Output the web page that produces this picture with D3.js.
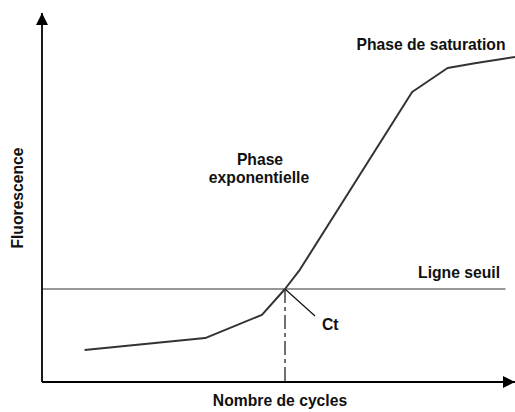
<!DOCTYPE html>
<html>
<head>
<meta charset="utf-8">
<script src="https://cdn.jsdelivr.net/npm/d3@7"></script>
<style>
  body { margin: 0; background: #fff; }
  text { font-family: "Liberation Sans", Arial, sans-serif; font-weight: bold; font-size: 15.7px; fill: #111; }
</style>
</head>
<body>
<div id="vis1"></div>
<script>
// frame constants
const FRAME_WIDTH = 515;
const FRAME_HEIGHT = 412;
const MARGINS = {left: 42, right: 0, top: 13, bottom: 30};

// schematic qPCR curve (cycle number, fluorescence in %)
const cycles = [3.6, 13.8, 18.6, 20.55, 21.8, 31.3, 34.3, 36.6, 40];
const fluo = [8.7, 11.9, 18.2, 25.2, 30.4, 78.6, 85.1, 86.4, 88.1];
const threshold = [25.2];
const ctCycle = [20.55];

const FRAME1 = d3.select("#vis1")
  .append("svg")
    .attr("width", FRAME_WIDTH)
    .attr("height", FRAME_HEIGHT);

const X_SCALE = d3.scaleLinear()
  .domain([0, 40])
  .range([MARGINS.left, FRAME_WIDTH - MARGINS.right]);

const Y_SCALE = d3.scaleLinear()
  .domain([0, 100])
  .range([FRAME_HEIGHT - MARGINS.bottom, MARGINS.top]);

const x0 = X_SCALE(0), y0 = Y_SCALE(0);

// arrow heads
const defs = FRAME1.append("defs");
defs.append("marker")
    .attr("id", "arrow")
    .attr("viewBox", "0 0 12 12")
    .attr("refX", 12)
    .attr("refY", 6)
    .attr("markerWidth", 12)
    .attr("markerHeight", 12)
    .attr("markerUnits", "userSpaceOnUse")
    .attr("orient", "auto")
  .append("path")
    .attr("d", "M0,0 L12,6 L0,12 Z")
    .attr("fill", "#000");

// threshold line
FRAME1.append("line")
    .attr("x1", x0)
    .attr("x2", X_SCALE(39.2))
    .attr("y1", Y_SCALE(threshold[0]))
    .attr("y2", Y_SCALE(threshold[0]))
    .attr("stroke", "#333")
    .attr("stroke-width", 1.2);

// dashed drop line at Ct
FRAME1.append("line")
    .attr("x1", X_SCALE(ctCycle[0]))
    .attr("x2", X_SCALE(ctCycle[0]))
    .attr("y1", Y_SCALE(threshold[0]))
    .attr("y2", y0)
    .attr("stroke", "#111")
    .attr("stroke-width", 1.2)
    .attr("stroke-dasharray", "14,4,4,4");

// Ct leader line
FRAME1.append("line")
    .attr("x1", X_SCALE(ctCycle[0]))
    .attr("y1", Y_SCALE(threshold[0]))
    .attr("x2", X_SCALE(ctCycle[0]) + 30)
    .attr("y2", Y_SCALE(threshold[0]) + 27)
    .attr("stroke", "#111")
    .attr("stroke-width", 1.2);

// the curve
const line = d3.line()
  .x((d, i) => X_SCALE(cycles[i]))
  .y((d) => Y_SCALE(d));

FRAME1.append("path")
    .datum(fluo)
    .attr("d", line)
    .attr("fill", "none")
    .attr("stroke", "#333")
    .attr("stroke-width", 2)
    .attr("stroke-linejoin", "round");

// axes with arrows
FRAME1.append("line")
    .attr("x1", x0).attr("y1", y0)
    .attr("x2", x0).attr("y2", MARGINS.top)
    .attr("stroke", "#000")
    .attr("stroke-width", 1.8)
    .attr("marker-end", "url(#arrow)");

FRAME1.append("line")
    .attr("x1", x0).attr("y1", y0)
    .attr("x2", FRAME_WIDTH).attr("y2", y0)
    .attr("stroke", "#000")
    .attr("stroke-width", 1.8)
    .attr("marker-end", "url(#arrow)");

// labels
FRAME1.append("text")
    .attr("x", 431)
    .attr("y", 50)
    .attr("text-anchor", "middle")
    .text("Phase de saturation");

FRAME1.append("text")
    .attr("x", 260)
    .attr("y", 165)
    .attr("text-anchor", "middle")
    .text("Phase");

FRAME1.append("text")
    .attr("x", 259)
    .attr("y", 183)
    .attr("text-anchor", "middle")
    .text("exponentielle");

FRAME1.append("text")
    .attr("x", 500)
    .attr("y", Y_SCALE(threshold[0]) - 11)
    .attr("text-anchor", "end")
    .text("Ligne seuil");

FRAME1.append("text")
    .attr("x", X_SCALE(ctCycle[0]) + 37)
    .attr("y", Y_SCALE(threshold[0]) + 41)
    .text("Ct");

FRAME1.append("text")
    .attr("x", 280)
    .attr("y", 406)
    .attr("text-anchor", "middle")
    .text("Nombre de cycles");

FRAME1.append("text")
    .attr("transform", "translate(23,198) rotate(-90)")
    .attr("text-anchor", "middle")
    .text("Fluorescence");
</script>
</body>
</html>
